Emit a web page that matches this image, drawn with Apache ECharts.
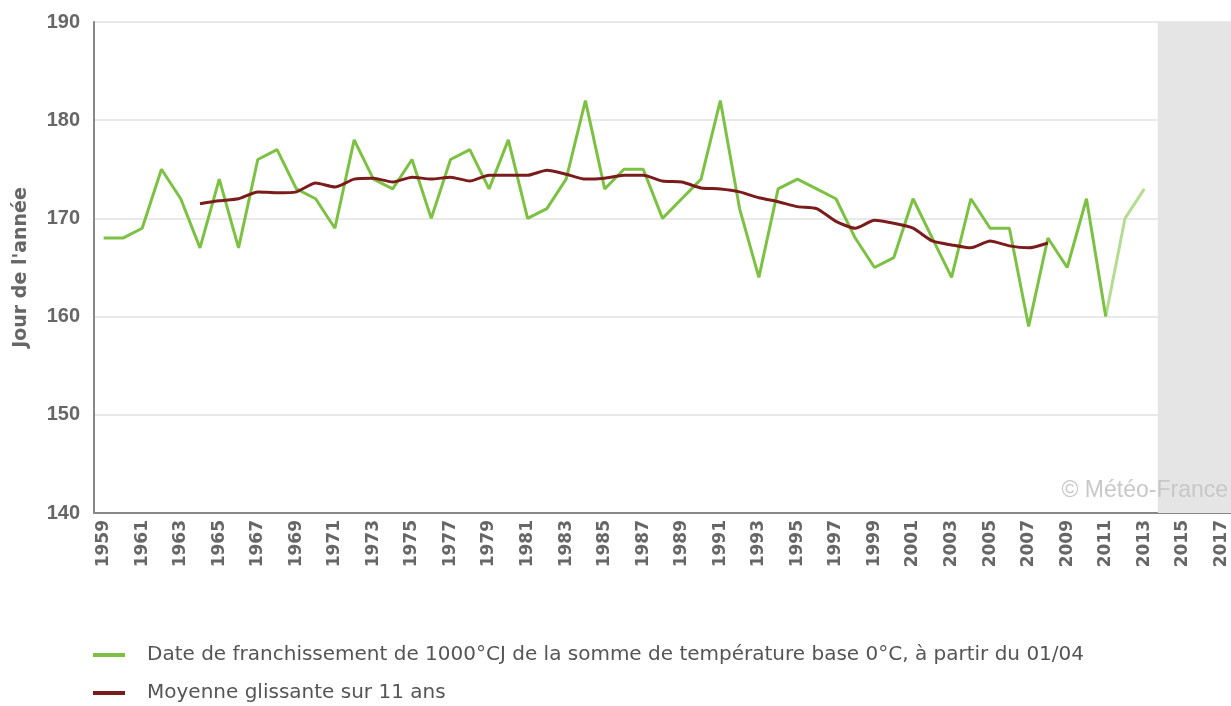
<!DOCTYPE html>
<html>
<head>
<meta charset="utf-8">
<script src="https://cdn.jsdelivr.net/npm/echarts@6/dist/echarts.min.js"></script>
<style>
html,body{margin:0;padding:0;background:#fff;}
#chart{width:1231px;height:706px;}
</style>
</head>
<body>
<div id="chart"></div>
<script>
const years = ['1959','1960','1961','1962','1963','1964','1965','1966','1967','1968','1969','1970','1971','1972','1973','1974','1975','1976','1977','1978','1979','1980','1981','1982','1983','1984','1985','1986','1987','1988','1989','1990','1991','1992','1993','1994','1995','1996','1997','1998','1999','2000','2001','2002','2003','2004','2005','2006','2007','2008','2009','2010','2011','2012','2013','2014','2015','2016','2017'];

// Date (day of year) 1959 -> 2013
const dateYears = ['1959','1960','1961','1962','1963','1964','1965','1966','1967','1968','1969','1970','1971','1972','1973','1974','1975','1976','1977','1978','1979','1980','1981','1982','1983','1984','1985','1986','1987','1988','1989','1990','1991','1992','1993','1994','1995','1996','1997','1998','1999','2000','2001','2002','2003','2004','2005','2006','2007','2008','2009','2010','2011','2012','2013'];
const dateValues = [168,168,169,175,172,167,174,167,176,177,173,172,169,178,174,173,176,170,176,177,173,178,170,171,174,182,173,175,175,170,172,174,182,171,164,173,174,173,172,168,165,166,172,168,164,172,169,169,159,168,165,172,160,170,173];
const provisionalFrom = '2011';

// 11-year moving average 1964 -> 2008
const avgYears = ['1964','1965','1966','1967','1968','1969','1970','1971','1972','1973','1974','1975','1976','1977','1978','1979','1980','1981','1982','1983','1984','1985','1986','1987','1988','1989','1990','1991','1992','1993','1994','1995','1996','1997','1998','1999','2000','2001','2002','2003','2004','2005','2006','2007','2008'];
const avgValues = [171.5,171.8,172.0,172.7,172.6,172.7,173.6,173.2,174.0,174.1,173.7,174.2,174.0,174.2,173.8,174.4,174.4,174.4,174.9,174.5,174.0,174.1,174.4,174.4,173.8,173.7,173.1,173.0,172.7,172.1,171.7,171.2,171.0,169.7,169.0,169.8,169.5,169.0,167.7,167.3,167.0,167.7,167.2,167.0,167.5];

const yTicks = {min:140, max:190, interval:10};
const shadedFrom = 2013.7, shadedTo = 2017.5;

const legendMain = 'Date de franchissement de 1000°CJ de la somme de température base 0°C, à partir du 01/04';
const legendAvg = 'Moyenne glissante sur 11 ans';

const provIdx = dateYears.indexOf(provisionalFrom);
const mainData = years.map(y => { const i = dateYears.indexOf(y); return (i >= 0 && i <= provIdx) ? dateValues[i] : null; });
const provData = years.map(y => { const i = dateYears.indexOf(y); return (i >= provIdx) ? dateValues[i] : null; });
const avgData = years.map(y => { const i = avgYears.indexOf(y); return i >= 0 ? avgValues[i] : null; });

const legendText = {color: '#555', fontSize: 20, fontFamily: 'DejaVu Sans, sans-serif', padding: [0,0,0,17]};
const chart = echarts.init(document.getElementById('chart'));
chart.setOption({
  animation: false,
  backgroundColor: '#ffffff',
  grid: {left: 94, right: 0, top: 22, bottom: 193, containLabel: false},
  legend: [{
    orient: 'horizontal', left: 93, top: 645, padding: 0,
    itemWidth: 32, itemHeight: 4, icon: 'rect', selectedMode: false,
    textStyle: legendText, data: [legendMain]
  }, {
    orient: 'horizontal', left: 93, top: 683, padding: 0,
    itemWidth: 32, itemHeight: 4, icon: 'rect', selectedMode: false,
    textStyle: legendText, data: [legendAvg]
  }],
  xAxis: [{
    type: 'category', data: years, boundaryGap: true,
    axisLine: {show: true, lineStyle: {color: '#888', width: 2}},
    axisTick: {show: false},
    axisLabel: {interval: 1, rotate: 90, margin: 7, color: '#666', fontWeight: 'bold', fontSize: 17, fontFamily: 'DejaVu Sans, sans-serif'},
    splitLine: {show: false}
  }, {
    type: 'value', min: 1958.5, max: 2017.5, show: false
  }],
  yAxis: {
    type: 'value', min: yTicks.min, max: yTicks.max, interval: yTicks.interval,
    name: "Jour de l'année", nameLocation: 'middle', nameGap: 63,
    nameTextStyle: {color: '#666', fontWeight: 'bold', fontSize: 19, fontFamily: 'DejaVu Sans, sans-serif'},
    axisLine: {show: true, lineStyle: {color: '#888', width: 2}},
    axisTick: {show: false},
    axisLabel: {margin: 14, color: '#666', fontWeight: 'bold', fontSize: 20, fontFamily: 'Liberation Sans, Arial, sans-serif'},
    splitLine: {show: true, lineStyle: {color: '#e2e2e2', width: 1.5}}
  },
  graphic: [{
    type: 'text', right: 3, top: 479, z: 100,
    style: {text: '© Météo-France', fill: '#c8c8c8', font: '23px Liberation Sans, Arial, sans-serif'}
  }],
  series: [
    {
      name: 'shade', type: 'line', xAxisIndex: 1, data: [], silent: true,
      markArea: {silent: true, itemStyle: {color: '#e5e5e5'}, data: [[{xAxis: shadedFrom}, {xAxis: shadedTo}]]}
    },
    {
      name: legendMain, type: 'line', data: mainData, symbol: 'none', connectNulls: false,
      lineStyle: {color: '#7cc143', width: 3}, itemStyle: {color: '#7cc143'}, z: 3
    },
    {
      name: 'provisoire', type: 'line', data: provData, symbol: 'none',
      lineStyle: {color: '#b6dc92', width: 3}, itemStyle: {color: '#b6dc92'}, z: 2
    },
    {
      name: legendAvg, type: 'line', data: avgData, symbol: 'none', smooth: 0.2,
      lineStyle: {color: '#7a1c1c', width: 3}, itemStyle: {color: '#7a1c1c'}, z: 4
    }
  ]
});
</script>
</body>
</html>
